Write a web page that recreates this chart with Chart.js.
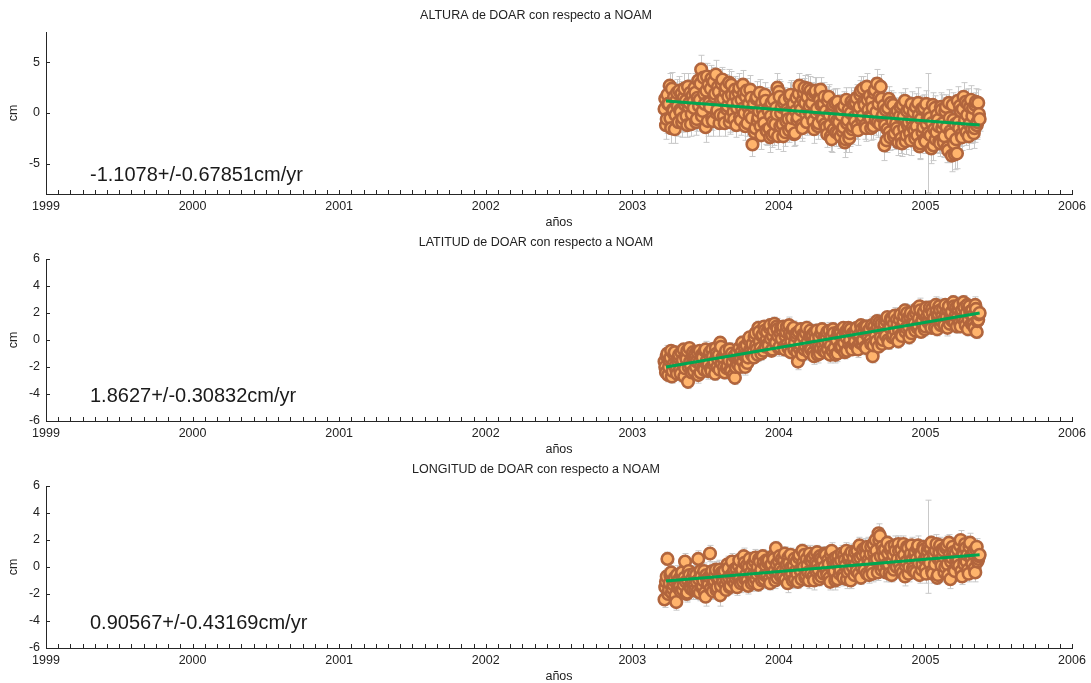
<!DOCTYPE html>
<html>
<head>
<meta charset="utf-8">
<script src="https://cdn.jsdelivr.net/npm/chart.js@4.4.0/dist/chart.umd.min.js"></script>
<style>
  body { margin: 0; background: #fff; width: 1091px; height: 683px; position: relative; overflow: hidden; }
  .panel { position: absolute; left: 0; width: 1091px; height: 230px; }
</style>
</head>
<body>
<div class="panel" style="top:0"><canvas id="c1" width="1091" height="230"></canvas></div>
<div class="panel" style="top:227px"><canvas id="c2" width="1091" height="230"></canvas></div>
<div class="panel" style="top:454px"><canvas id="c3" width="1091" height="230"></canvas></div>
<script>
// fechas (años decimales) de las soluciones, serie A
const fechas = [
  2003.22, 2003.23, 2003.24, 2003.25, 2003.26, 2003.27, 2003.28, 2003.29, 2003.30, 2003.31,
  2003.32, 2003.33, 2003.34, 2003.35, 2003.36, 2003.37, 2003.38, 2003.39, 2003.40, 2003.41,
  2003.42, 2003.43, 2003.44, 2003.45, 2003.46, 2003.47, 2003.48, 2003.49, 2003.50, 2003.51,
  2003.52, 2003.53, 2003.54, 2003.55, 2003.56, 2003.57, 2003.58, 2003.59, 2003.60, 2003.61,
  2003.62, 2003.63, 2003.64, 2003.65, 2003.66, 2003.67, 2003.68, 2003.69, 2003.70, 2003.71,
  2003.72, 2003.73, 2003.74, 2003.75, 2003.76, 2003.77, 2003.78, 2003.79, 2003.80, 2003.81,
  2003.82, 2003.83, 2003.84, 2003.85, 2003.86, 2003.87, 2003.88, 2003.89, 2003.90, 2003.91,
  2003.92, 2003.93, 2003.94, 2003.95, 2003.96, 2003.97, 2003.98, 2003.99, 2004.00, 2004.01,
  2004.02, 2004.03, 2004.04, 2004.05, 2004.06, 2004.07, 2004.08, 2004.09, 2004.10, 2004.11,
  2004.12, 2004.13, 2004.14, 2004.15, 2004.16, 2004.17, 2004.18, 2004.19, 2004.20, 2004.21,
  2004.22, 2004.23, 2004.24, 2004.25, 2004.26, 2004.27, 2004.28, 2004.29, 2004.30, 2004.31,
  2004.32, 2004.33, 2004.34, 2004.35, 2004.36, 2004.37, 2004.38, 2004.39, 2004.40, 2004.41,
  2004.42, 2004.43, 2004.44, 2004.45, 2004.46, 2004.47, 2004.48, 2004.49, 2004.50, 2004.51,
  2004.52, 2004.53, 2004.54, 2004.55, 2004.56, 2004.57, 2004.58, 2004.59, 2004.60, 2004.61,
  2004.62, 2004.63, 2004.64, 2004.65, 2004.66, 2004.67, 2004.68, 2004.69, 2004.70, 2004.71,
  2004.72, 2004.73, 2004.74, 2004.75, 2004.76, 2004.77, 2004.78, 2004.79, 2004.80, 2004.81,
  2004.82, 2004.83, 2004.84, 2004.85, 2004.86, 2004.87, 2004.88, 2004.89, 2004.90, 2004.91,
  2004.92, 2004.93, 2004.94, 2004.95, 2004.96, 2004.97, 2004.98, 2004.99, 2005.00, 2005.01,
  2005.02, 2005.03, 2005.04, 2005.05, 2005.06, 2005.07, 2005.08, 2005.09, 2005.10, 2005.11,
  2005.12, 2005.13, 2005.14, 2005.15, 2005.16, 2005.17, 2005.18, 2005.19, 2005.20, 2005.21,
  2005.22, 2005.23, 2005.24, 2005.25, 2005.26, 2005.27, 2005.28, 2005.29, 2005.30, 2005.31,
  2005.32, 2005.33, 2005.34, 2005.35, 2005.36, 2005.37
];
// serie B (días intermedios)
const fechasB = [
  2003.225, 2003.235, 2003.245, 2003.255, 2003.265, 2003.275, 2003.285, 2003.295, 2003.305, 2003.315,
  2003.325, 2003.335, 2003.345, 2003.355, 2003.365, 2003.375, 2003.385, 2003.395, 2003.405, 2003.415,
  2003.425, 2003.435, 2003.445, 2003.455, 2003.465, 2003.475, 2003.485, 2003.495, 2003.505, 2003.515,
  2003.525, 2003.535, 2003.545, 2003.555, 2003.565, 2003.575, 2003.585, 2003.595, 2003.605, 2003.615,
  2003.625, 2003.635, 2003.645, 2003.655, 2003.665, 2003.675, 2003.685, 2003.695, 2003.705, 2003.715,
  2003.725, 2003.735, 2003.745, 2003.755, 2003.765, 2003.775, 2003.785, 2003.795, 2003.805, 2003.815,
  2003.825, 2003.835, 2003.845, 2003.855, 2003.865, 2003.875, 2003.885, 2003.895, 2003.905, 2003.915,
  2003.925, 2003.935, 2003.945, 2003.955, 2003.965, 2003.975, 2003.985, 2003.995, 2004.005, 2004.015,
  2004.025, 2004.035, 2004.045, 2004.055, 2004.065, 2004.075, 2004.085, 2004.095, 2004.105, 2004.115,
  2004.125, 2004.135, 2004.145, 2004.155, 2004.165, 2004.175, 2004.185, 2004.195, 2004.205, 2004.215,
  2004.225, 2004.235, 2004.245, 2004.255, 2004.265, 2004.275, 2004.285, 2004.295, 2004.305, 2004.315,
  2004.325, 2004.335, 2004.345, 2004.355, 2004.365, 2004.375, 2004.385, 2004.395, 2004.405, 2004.415,
  2004.425, 2004.435, 2004.445, 2004.455, 2004.465, 2004.475, 2004.485, 2004.495, 2004.505, 2004.515,
  2004.525, 2004.535, 2004.545, 2004.555, 2004.565, 2004.575, 2004.585, 2004.595, 2004.605, 2004.615,
  2004.625, 2004.635, 2004.645, 2004.655, 2004.665, 2004.675, 2004.685, 2004.695, 2004.705, 2004.715,
  2004.725, 2004.735, 2004.745, 2004.755, 2004.765, 2004.775, 2004.785, 2004.795, 2004.805, 2004.815,
  2004.825, 2004.835, 2004.845, 2004.855, 2004.865, 2004.875, 2004.885, 2004.895, 2004.905, 2004.915,
  2004.925, 2004.935, 2004.945, 2004.955, 2004.965, 2004.975, 2004.985, 2004.995, 2005.005, 2005.015,
  2005.025, 2005.035, 2005.045, 2005.055, 2005.065, 2005.075, 2005.085, 2005.095, 2005.105, 2005.115,
  2005.125, 2005.135, 2005.145, 2005.155, 2005.165, 2005.175, 2005.185, 2005.195, 2005.205, 2005.215,
  2005.225, 2005.235, 2005.245, 2005.255, 2005.265, 2005.275, 2005.285, 2005.295, 2005.305, 2005.315,
  2005.325, 2005.335, 2005.345, 2005.355, 2005.365
];

// ALTURA (cm)
const altura = [
  0.4, -1.2, 1.8, 0.9, -0.5, 2.4, 0.2, -1.6, 1.2, 0.7,
  2.2, 0.1, -0.9, 1.5, 0.8, -0.3, 2.6, 1.0, -1.1, 1.7,
  0.5, 2.0, -0.6, 3.2, 1.3, 4.3, 0.2, 1.9, -1.4, 3.6,
  2.8, 0.6, 3.4, -0.8, 1.6, 3.8, 0.3, 2.1, -0.2, 2.9,
  1.4, -1.0, 2.6, 0.7, 3.0, -0.4, 1.8, 0.1, 2.3, -1.2,
  1.1, 2.5, -0.7, 0.4, 1.9, -1.3, 2.2, 0.6, -0.2, 1.5,
  -3.1, 0.9, -1.5, 1.6, -0.4, 2.0, -2.2, 0.3, -1.0, 1.2,
  -1.8, 0.2, -2.4, 1.0, -0.9, -2.0, 0.5, 2.5, 2.1, -1.3,
  0.6, -2.3, 1.3, -0.8, 0.0, -1.7, 1.8, -0.5, 0.9, -2.0,
  1.5, -0.4, 2.7, 0.3, -1.5, 2.0, 1.0, -0.9, 2.4, 0.7,
  -0.2, 1.8, -1.6, 2.2, 0.4, -1.0, 1.3, 0.8, -0.6, 1.6,
  0.2, -2.1, 1.6, -1.2, -2.6, 0.8, -0.5, -1.9, 1.1, -0.9,
  -2.3, 0.4, -1.4, -2.9, 1.3, -0.7, -2.5, 0.0, -1.6, 0.9,
  -0.8, 1.5, -1.7, 0.6, 2.2, -0.3, 1.1, -1.2, 2.6, 0.3,
  1.7, -1.5, 0.5, 2.0, -0.7, 2.9, 0.9, -1.1, 1.4, -0.2,
  -3.2, 0.3, -1.6, 1.4, -2.4, -0.5, 0.8, -2.0, -1.0, 0.2,
  -1.8, 0.6, -3.0, -0.4, 1.2, -2.2, -1.2, 0.4, -2.7, -0.7,
  0.1, -2.5, -1.3, 1.0, -3.3, -0.6, -1.9, 0.5, -2.8, -1.1,
  -2.0, -0.5, -3.5, 0.8, -1.6, -2.6, -0.2, -1.3, -3.0, 0.3,
  -1.0, -2.3, 0.6, -3.4, 1.0, -1.8, -4.2, -0.7, -4.1, -2.6,
  1.2, -1.5, 0.2, -2.4, 1.6, -0.7, -1.9, 0.9, -1.1, 1.3,
  -0.3, -2.0, 0.8, -1.2, 1.0, -0.6
];
const alturaB = [
  1.4, -0.6, 0.9, 2.7, -1.5, 0.3, 1.6, -0.2, 2.0, -0.9,
  0.3, 1.9, -0.5, 2.4, 1.2, -1.2, 0.6, 2.0, -0.1, 1.1,
  2.5, -0.9, 1.5, 0.7, 2.9, -0.3, 3.5, 0.9, 2.2, -0.8,
  1.0, 2.4, -0.5, 3.1, 1.9, 0.0, 2.6, -1.0, 1.3, 3.3,
  -0.3, 2.1, 0.4, 1.6, -0.9, 2.8, 0.9, -0.6, 1.7, 0.5,
  2.0, -0.4, 1.3, 2.8, 0.0, 1.6, -1.0, 0.9, 2.3, -0.5,
  0.6, -1.9, 1.4, -0.8, 0.2, -1.3, 1.0, -0.3, 1.8, -1.7,
  0.4, -1.5, -0.3, -2.2, 1.3, -1.1, -0.1, -2.3, 1.6, 0.0,
  -1.1, 1.0, -1.9, 0.3, -0.6, 1.5, -1.4, 0.6, -2.1, 0.2,
  -0.7, 1.9, 0.8, -1.2, 1.3, 2.5, -0.1, 1.6, 0.2, 2.2,
  1.0, -0.8, 2.0, 0.0, -1.3, 1.5, 2.3, -0.4, 0.9, -1.1,
  -1.4, 1.2, -0.2, -2.3, 0.5, -1.6, 1.0, -0.8, -2.0, 0.3,
  -0.2, -1.8, 0.7, -2.6, -1.0, 0.3, -2.0, 1.1, -1.3, -0.4,
  1.0, -1.3, 0.1, 1.8, -0.6, 2.4, 0.8, -1.5, 1.3, -0.4,
  -0.5, 1.2, -1.3, 2.3, 0.1, -0.9, 1.6, 2.6, -0.4, 0.7,
  -1.2, -2.7, 0.5, -1.9, 1.0, -0.8, -2.3, 0.0, -1.5, -2.9,
  -0.3, -2.5, 0.8, -1.5, -2.8, 0.2, -0.9, -2.0, 0.9, -1.4,
  -1.7, 0.6, -2.2, -0.2, -3.0, 0.4, -1.4, -2.6, 0.9, -0.5,
  0.0, -2.2, -1.0, -3.2, 0.5, -1.9, -0.7, -2.8, 0.6, -1.5,
  -2.9, 0.2, -1.4, -3.7, -0.5, -2.1, 0.8, -3.0, -1.1, -4.0,
  -0.9, 0.7, -2.1, 0.4, -1.3, 1.1, -0.2, -2.3, 0.6, -1.6,
  0.5, -1.5, 1.1, -0.9, -0.1
];
const alturaErr = [
  1.3, 1.4, 1.2, 1.5, 1.3, 1.6, 1.2, 1.4, 1.3, 1.5,
  1.4, 1.2, 1.5, 1.3, 1.1, 1.4, 1.3, 1.5, 1.2, 1.4,
  1.3, 1.5, 1.2, 1.4, 1.3, 1.4, 1.6, 1.2, 1.5, 1.3,
  1.2, 1.4, 1.3, 1.5, 1.2, 1.4, 1.3, 1.6, 1.2, 1.4,
  1.5, 1.3, 1.2, 1.4, 1.3, 1.5, 1.2, 1.4, 1.3, 1.2,
  1.3, 1.4, 1.5, 1.2, 1.3, 1.4, 1.2, 1.5, 1.3, 1.4,
  1.2, 1.4, 1.3, 1.5, 1.2, 1.3, 1.4, 1.2, 1.5, 1.3,
  1.4, 1.2, 1.5, 1.3, 1.4, 1.2, 1.3, 1.4, 1.2, 1.5,
  1.3, 1.5, 1.2, 1.4, 1.3, 1.2, 1.4, 1.3, 1.5, 1.2,
  1.4, 1.3, 1.2, 1.5, 1.3, 1.4, 1.2, 1.3, 1.4, 1.2,
  1.3, 1.2, 1.4, 1.3, 1.5, 1.2, 1.4, 1.3, 1.2, 1.4,
  1.5, 1.3, 1.2, 1.4, 1.3, 1.5, 1.2, 1.4, 1.3, 1.2,
  1.2, 1.4, 1.3, 1.5, 1.2, 1.3, 1.4, 1.2, 1.5, 1.3,
  1.4, 1.3, 1.5, 1.2, 1.4, 1.3, 1.2, 1.4, 1.3, 1.5,
  1.3, 1.2, 1.4, 1.3, 1.5, 1.4, 1.2, 1.3, 1.4, 1.2,
  1.5, 1.3, 1.4, 1.2, 1.3, 1.5, 1.2, 1.4, 1.3, 1.2,
  1.2, 1.4, 1.3, 1.5, 1.2, 1.4, 1.3, 1.2, 1.5, 1.3,
  1.4, 1.2, 1.3, 1.5, 1.3, 1.2, 1.4, 1.3, 1.2, 1.4,
  5.9, 1.3, 1.5, 1.2, 1.4, 1.3, 1.2, 1.4, 1.3, 1.5,
  1.3, 1.4, 1.2, 1.5, 1.3, 1.4, 1.6, 1.2, 1.5, 1.3,
  1.4, 1.2, 1.5, 1.3, 1.4, 1.2, 1.3, 1.5, 1.2, 1.4,
  1.3, 1.5, 1.2, 1.4, 1.3, 1.2
];
const alturaErrB = [
  1.2, 1.4, 1.3, 1.2, 1.5, 1.3, 1.4, 1.2, 1.3, 1.4,
  1.3, 1.2, 1.4, 1.5, 1.3, 1.2, 1.4, 1.3, 1.5, 1.2,
  1.4, 1.3, 1.2, 1.3, 1.5, 1.2, 1.4, 1.3, 1.2, 1.5,
  1.3, 1.5, 1.2, 1.4, 1.3, 1.2, 1.5, 1.3, 1.4, 1.2,
  1.2, 1.4, 1.3, 1.5, 1.2, 1.3, 1.4, 1.2, 1.3, 1.5,
  1.4, 1.2, 1.3, 1.4, 1.2, 1.5, 1.3, 1.2, 1.4, 1.3,
  1.3, 1.5, 1.2, 1.3, 1.4, 1.2, 1.3, 1.5, 1.2, 1.4,
  1.5, 1.3, 1.4, 1.2, 1.3, 1.4, 1.2, 1.3, 1.5, 1.2,
  1.2, 1.3, 1.4, 1.3, 1.2, 1.5, 1.3, 1.4, 1.2, 1.3,
  1.3, 1.4, 1.2, 1.3, 1.5, 1.2, 1.4, 1.3, 1.2, 1.4,
  1.4, 1.3, 1.5, 1.2, 1.3, 1.4, 1.2, 1.5, 1.3, 1.2,
  1.2, 1.4, 1.3, 1.5, 1.2, 1.3, 1.4, 1.2, 1.3, 1.5,
  1.3, 1.2, 1.4, 1.3, 1.5, 1.2, 1.3, 1.4, 1.2, 1.3,
  1.5, 1.3, 1.2, 1.4, 1.3, 1.2, 1.5, 1.3, 1.4, 1.2,
  1.2, 1.4, 1.3, 1.2, 1.4, 1.5, 1.3, 1.2, 1.3, 1.4,
  1.4, 1.2, 1.5, 1.3, 1.2, 1.4, 1.3, 1.5, 1.2, 1.3,
  1.3, 1.5, 1.2, 1.4, 1.3, 1.2, 1.4, 1.3, 1.2, 1.5,
  1.2, 1.3, 1.4, 1.2, 1.5, 1.3, 1.2, 1.4, 1.3, 1.2,
  1.4, 1.2, 1.3, 1.5, 1.2, 1.4, 1.3, 1.2, 1.4, 1.3,
  1.5, 1.3, 1.4, 1.2, 1.3, 1.5, 1.2, 1.4, 1.3, 1.5,
  1.3, 1.4, 1.2, 1.3, 1.5, 1.2, 1.4, 1.3, 1.2, 1.4,
  1.2, 1.4, 1.3, 1.5, 1.3
];

// LATITUD (cm)
const latitud = [
  -1.6, -2.4, -1.0, -2.0, -1.3, -2.7, -1.8, -0.9, -2.2, -1.5,
  -1.1, -2.5, -1.7, -0.7, -2.1, -1.4, -3.1, -0.6, -1.9, -1.2,
  -2.3, -1.0, -1.6, -2.6, -0.8, -1.9, -1.3, -2.2, -0.7, -1.5,
  -1.8, -0.9, -2.3, -1.2, -1.6, -0.6, -2.0, -1.1, -0.2, -1.7,
  -1.3, -2.4, -0.8, -1.9, -1.5, -2.2, -1.0, -2.6, -2.8, -1.4,
  -1.8, -0.6, -1.4, -0.2, -1.1, -2.0, -0.4, -1.3, 0.2, -0.8,
  -0.3, -1.3, 0.5, -0.7, 0.9, -0.1, -1.0, 0.4, 1.0, -0.5,
  0.6, -0.4, 1.1, -0.8, 0.3, 1.2, -0.2, 0.8, -0.6, 0.5,
  0.1, 1.0, -0.7, 0.6, -0.3, 1.1, -0.9, 0.4, 0.9, -0.2,
  0.5, -1.6, -0.6, 0.8, -1.1, 0.2, -0.4, 0.9, -0.8, 0.3,
  -0.7, 0.4, -1.2, 0.1, 0.7, -0.5, -1.0, 0.5, -0.3, 0.2,
  -0.9, 0.6, -0.2, -1.1, 0.3, 0.8, -0.6, 0.1, -1.0, 0.4,
  0.5, -0.5, 0.9, -0.9, 0.2, 0.7, -0.3, 0.8, -0.7, 0.4,
  -0.1, 0.9, -0.7, 0.4, 1.1, -0.3, 0.6, -0.5, 1.0, 0.2,
  0.8, -0.3, -1.2, 1.0, 0.3, 1.4, -0.5, 0.7, 1.2, 0.0,
  1.2, 0.3, 1.7, -0.2, 0.9, 1.5, 0.4, 1.8, 0.1, 1.1,
  0.7, 1.9, 0.3, 1.4, 2.2, 0.9, 1.6, 0.2, 2.0, 1.2,
  1.8, 0.7, 2.3, 1.1, 2.5, 0.6, 1.5, 2.1, 1.0, 1.7,
  1.3, 2.4, 0.9, 2.0, 1.6, 2.6, 0.8, 1.9, 2.2, 1.4,
  2.3, 1.1, 2.0, 0.9, 2.5, 1.6, 2.1, 2.8, 1.3, 2.4,
  1.7, 2.6, 1.0, 2.2, 2.8, 1.4, 2.0, 0.8, 2.5, 1.9,
  2.2, 1.2, 2.6, 0.6, 1.5, 2.0
];
const latitudB = [
  -2.0, -1.2, -2.6, -1.5, -0.8, -2.3, -1.1, -1.9, -2.5, -1.3,
  -2.2, -0.9, -1.5, -2.7, -1.2, -0.8, -2.0, -1.6, -2.4, -0.9,
  -1.2, -2.0, -0.9, -1.7, -2.4, -1.1, -2.0, -0.8, -1.7, -2.3,
  -1.1, -2.1, -0.7, -1.8, -2.5, -1.0, -1.4, -2.2, -0.5, -1.3,
  -2.0, -1.0, -2.1, -1.3, -0.7, -2.3, -1.6, -1.2, -2.0, -0.9,
  -1.4, -2.0, -0.9, -1.6, -0.5, -1.2, -1.7, 0.0, -0.7, -1.1,
  -0.9, 0.2, -0.4, -1.1, 0.6, -0.6, 0.3, -0.8, 0.7, 0.0,
  -0.3, 0.9, 0.1, -0.7, 0.7, -0.2, 1.0, 0.3, -0.5, 0.9,
  0.7, -0.5, 0.3, 1.0, -0.6, 0.5, -0.1, 0.8, -0.7, 0.3,
  -0.9, 0.6, -0.3, -1.0, 0.4, -0.7, 0.5, -0.2, -0.9, 0.7,
  0.3, -0.9, 0.6, -0.4, -1.1, 0.2, -0.6, 0.8, -0.8, -0.1,
  0.2, -0.7, 0.7, -0.4, -0.8, 0.5, -1.1, 0.0, 0.6, -0.5,
  -0.6, 0.3, -0.2, 0.6, -0.8, 0.9, 0.0, -0.5, 0.5, -0.3,
  0.6, -0.5, 0.3, -0.2, 0.8, 0.0, 1.0, -0.6, 0.4, 0.7,
  0.0, 1.1, -0.4, 0.6, -0.1, 0.9, 1.3, 0.2, -0.3, 0.8,
  0.5, 1.4, 0.0, 1.0, 1.6, 0.2, 1.2, 0.7, 1.5, -0.1,
  1.5, 0.4, 1.1, 1.8, 0.6, 2.0, 1.0, 1.7, 0.5, 1.4,
  1.2, 2.0, 0.9, 1.6, 2.2, 1.3, 1.9, 0.8, 2.4, 1.4,
  2.0, 1.2, 2.3, 1.5, 0.9, 2.1, 1.7, 2.5, 1.1, 1.8,
  1.5, 2.6, 1.7, 2.2, 1.2, 2.0, 1.4, 2.5, 1.8, 1.0,
  2.3, 1.3, 2.0, 1.6, 2.4, 1.1, 2.6, 1.5, 2.1, 1.2,
  1.8, 0.9, 2.3, 1.4, 1.9
];
const latitudErr = [
  0.5, 0.4, 0.6, 0.5, 0.4, 0.5, 0.6, 0.4, 0.5, 0.5,
  0.4, 0.6, 0.5, 0.4, 0.5, 0.6, 0.5, 0.4, 0.5, 0.6,
  0.5, 0.4, 0.5, 0.6, 0.4, 0.5, 0.5, 0.4, 0.6, 0.5,
  0.6, 0.5, 0.4, 0.5, 0.6, 0.4, 0.5, 0.5, 0.4, 0.6,
  0.4, 0.5, 0.6, 0.4, 0.5, 0.5, 0.6, 0.4, 0.5, 0.4,
  0.5, 0.6, 0.4, 0.5, 0.4, 0.6, 0.5, 0.5, 0.4, 0.5,
  0.5, 0.4, 0.5, 0.6, 0.5, 0.4, 0.5, 0.6, 0.4, 0.5,
  0.4, 0.5, 0.5, 0.4, 0.6, 0.5, 0.4, 0.5, 0.6, 0.4,
  0.6, 0.4, 0.5, 0.5, 0.4, 0.6, 0.5, 0.4, 0.5, 0.5,
  0.5, 0.6, 0.4, 0.5, 0.5, 0.4, 0.6, 0.5, 0.4, 0.5,
  0.4, 0.5, 0.6, 0.4, 0.5, 0.5, 0.4, 0.6, 0.5, 0.4,
  0.5, 0.4, 0.5, 0.6, 0.4, 0.5, 0.5, 0.4, 0.6, 0.5,
  0.6, 0.5, 0.4, 0.5, 0.5, 0.6, 0.4, 0.5, 0.4, 0.5,
  0.5, 0.4, 0.6, 0.5, 0.4, 0.5, 0.6, 0.4, 0.5, 0.5,
  0.4, 0.5, 0.5, 0.6, 0.4, 0.5, 0.4, 0.6, 0.5, 0.4,
  0.5, 0.6, 0.4, 0.5, 0.5, 0.4, 0.5, 0.6, 0.4, 0.5,
  0.4, 0.5, 0.6, 0.4, 0.5, 0.5, 0.4, 0.5, 0.6, 0.5,
  0.5, 0.4, 0.5, 0.5, 0.6, 0.4, 0.5, 0.4, 0.5, 0.6,
  0.6, 0.5, 0.4, 0.5, 0.4, 0.6, 0.5, 0.5, 0.4, 0.5,
  0.4, 0.5, 0.5, 0.6, 0.4, 0.5, 0.4, 0.5, 0.6, 0.4,
  0.5, 0.6, 0.4, 0.5, 0.5, 0.4, 0.6, 0.5, 0.4, 0.5,
  0.5, 0.4, 0.6, 0.5, 0.4, 0.5
];
const latitudErrB = [
  0.4, 0.5, 0.5, 0.6, 0.4, 0.5, 0.4, 0.6, 0.5, 0.4,
  0.5, 0.4, 0.6, 0.5, 0.5, 0.4, 0.6, 0.5, 0.4, 0.5,
  0.6, 0.5, 0.4, 0.5, 0.4, 0.6, 0.5, 0.5, 0.4, 0.6,
  0.5, 0.4, 0.5, 0.6, 0.5, 0.4, 0.5, 0.4, 0.6, 0.5,
  0.4, 0.6, 0.5, 0.4, 0.5, 0.6, 0.4, 0.5, 0.5, 0.4,
  0.5, 0.5, 0.4, 0.6, 0.5, 0.4, 0.5, 0.6, 0.4, 0.5,
  0.6, 0.4, 0.5, 0.5, 0.4, 0.6, 0.5, 0.4, 0.5, 0.6,
  0.5, 0.6, 0.4, 0.5, 0.5, 0.4, 0.6, 0.5, 0.4, 0.5,
  0.4, 0.5, 0.6, 0.4, 0.5, 0.5, 0.4, 0.6, 0.5, 0.4,
  0.5, 0.4, 0.5, 0.6, 0.4, 0.5, 0.5, 0.4, 0.6, 0.5,
  0.6, 0.5, 0.4, 0.5, 0.6, 0.4, 0.5, 0.5, 0.4, 0.6,
  0.4, 0.5, 0.6, 0.5, 0.4, 0.5, 0.6, 0.4, 0.5, 0.5,
  0.5, 0.4, 0.5, 0.6, 0.5, 0.4, 0.5, 0.6, 0.4, 0.5,
  0.6, 0.5, 0.4, 0.5, 0.6, 0.5, 0.4, 0.5, 0.5, 0.4,
  0.5, 0.6, 0.4, 0.5, 0.5, 0.4, 0.6, 0.5, 0.4, 0.5,
  0.4, 0.5, 0.5, 0.6, 0.4, 0.5, 0.5, 0.4, 0.6, 0.5,
  0.5, 0.4, 0.6, 0.5, 0.4, 0.6, 0.5, 0.5, 0.4, 0.5,
  0.6, 0.5, 0.4, 0.5, 0.5, 0.4, 0.6, 0.5, 0.4, 0.5,
  0.4, 0.6, 0.5, 0.4, 0.5, 0.5, 0.4, 0.6, 0.5, 0.4,
  0.5, 0.4, 0.6, 0.5, 0.5, 0.4, 0.5, 0.6, 0.4, 0.5,
  0.6, 0.5, 0.4, 0.5, 0.4, 0.6, 0.5, 0.4, 0.5, 0.5,
  0.4, 0.5, 0.5, 0.6, 0.4
];

// LONGITUD (cm)
const longitud = [
  -2.4, -1.1, 0.6, -1.7, -0.6, -1.9, -1.3, -0.8, -2.6, -1.5,
  -0.9, -1.8, -0.4, -1.3, 0.4, -2.0, -1.0, -0.6, -1.6, -1.2,
  -0.5, -1.7, -1.1, 0.6, -1.9, -0.7, -1.4, -0.3, -2.2, -0.9,
  -1.3, 1.0, -0.6, -1.8, -1.0, -0.2, -1.5, -0.8, -2.1, -0.4,
  -1.1, -0.3, -1.7, 0.2, -0.8, -1.4, 0.4, -0.5, -1.2, -0.1,
  -0.7, 0.5, -1.2, -0.2, 0.8, -0.9, 0.1, -1.4, 0.6, -0.4,
  0.2, -1.1, 0.7, -0.5, -1.3, 0.4, -0.2, 0.8, -0.9, 0.1,
  -0.6, 0.5, -1.2, 0.2, 0.8, -0.3, 1.4, -0.8, 0.4, -0.1,
  0.6, -0.7, 1.0, -0.2, -1.2, 0.3, 0.9, -0.5, 0.1, -0.9,
  0.4, -1.1, 0.9, -0.3, 1.2, 0.0, -0.8, 0.6, -0.4, 1.0,
  -0.5, 0.7, -1.0, 0.3, 1.1, -0.2, 0.8, -0.7, 0.5, 0.0,
  0.9, -0.6, 0.2, -1.1, 1.2, 0.4, -0.3, 0.7, -0.9, 0.3,
  -0.2, 1.0, -0.8, 0.5, 1.2, -0.4, 0.8, -1.0, 0.3, 0.7,
  1.1, -0.3, 0.6, 1.6, -0.8, 0.9, 0.2, 1.4, -0.5, 0.5,
  0.3, 1.5, -0.5, 1.0, 2.0, 0.6, 2.5, 2.3, -0.2, 1.2,
  0.8, -0.4, 1.8, 0.2, 1.3, -0.6, 0.9, 1.6, 0.1, 0.6,
  1.2, -0.2, 0.7, 1.7, -0.7, 0.4, 1.4, 0.0, 1.0, 0.5,
  -0.3, 1.1, 0.6, 1.6, -0.6, 0.9, 0.2, 1.3, -0.1, 0.7,
  1.5, 0.3, 1.8, -0.5, 0.9, 1.2, -0.8, 0.6, 1.6, 0.1,
  0.8, -0.4, 1.4, 0.2, 1.8, -0.9, 0.7, 1.1, -0.3, 0.5,
  1.3, 0.1, 2.0, -0.7, 0.9, 1.7, 0.4, -0.2, 1.5, 0.8,
  0.2, 1.2, -0.4, 1.5, 0.6, 0.9
];
const longitudB = [
  -1.5, -0.7, -2.0, -1.2, -0.4, -1.6, -1.0, -2.1, -0.6, -1.3,
  -1.4, -0.6, -1.7, -0.8, -1.1, -1.9, -0.3, -1.4, -0.9, -1.7,
  -1.3, -0.6, -1.8, -0.9, -0.3, -1.5, -1.0, -1.9, -0.6, -1.2,
  -0.7, -1.6, -0.3, -1.2, -0.6, -1.7, -0.9, -0.2, -1.4, -0.8,
  -0.4, -1.3, -0.9, -0.1, -1.5, -0.6, -1.0, -0.2, -0.8, -1.5,
  0.1, -0.8, -0.3, -1.1, 0.3, -0.6, -1.0, 0.0, -0.5, -1.2,
  -0.6, 0.4, -0.9, 0.0, 0.6, -0.4, -1.0, 0.3, -0.6, 0.5,
  0.3, -0.9, 0.0, -0.5, 0.6, -1.0, 0.2, -0.4, 0.8, -0.7,
  -0.3, 0.5, -0.9, 0.2, 0.7, -0.6, 0.0, -1.0, 0.6, -0.3,
  -0.5, 0.7, -0.2, -0.9, 0.3, 0.9, -0.6, 0.1, -1.0, 0.5,
  0.4, -0.7, 0.9, -0.3, 0.2, -0.9, 0.6, 0.1, -0.5, 1.0,
  -0.3, 0.5, -0.8, 0.9, -0.2, 0.6, -1.0, 0.2, 0.8, -0.5,
  0.5, -0.6, 0.9, 0.1, -0.9, 0.6, -0.2, 1.1, 0.0, -0.6,
  0.2, 1.2, -0.5, 0.7, 0.0, 1.3, -0.2, 0.9, 1.5, -0.6,
  1.0, -0.2, 1.7, 0.5, 1.2, -0.4, 2.0, 0.8, 1.5, 0.0,
  1.3, 0.2, 1.0, -0.5, 1.5, 0.5, -0.2, 1.2, 0.0, 1.7,
  0.2, 1.3, -0.4, 0.9, 0.1, 1.5, -0.5, 0.8, 1.6, -0.1,
  0.9, -0.4, 1.4, 0.3, 1.0, -0.2, 1.5, 0.6, -0.5, 1.2,
  0.6, 1.4, -0.3, 1.0, 0.2, 1.7, -0.6, 1.1, 0.4, 1.3,
  1.2, 0.0, 1.6, -0.6, 0.9, 0.4, 1.5, -0.2, 1.0, 0.2,
  0.5, 1.6, -0.3, 1.1, 0.2, 1.4, 0.9, -0.5, 1.8, 0.6,
  1.0, -0.1, 1.3, 0.4, 0.8
];
const longitudErr = [
  0.6, 0.7, 0.5, 0.6, 0.7, 0.6, 0.5, 0.7, 0.6, 0.6,
  0.7, 0.5, 0.6, 0.7, 0.6, 0.5, 0.7, 0.6, 0.6, 0.5,
  0.6, 0.7, 0.5, 0.6, 0.6, 0.7, 0.5, 0.6, 0.7, 0.6,
  0.5, 0.6, 0.7, 0.6, 0.5, 0.6, 0.7, 0.6, 0.8, 0.6,
  0.7, 0.6, 0.5, 0.6, 0.7, 0.5, 0.6, 0.7, 0.6, 0.5,
  0.6, 0.5, 0.7, 0.6, 0.6, 0.5, 0.7, 0.6, 0.5, 0.6,
  0.5, 0.6, 0.6, 0.7, 0.5, 0.6, 0.6, 0.5, 0.7, 0.6,
  0.6, 0.7, 0.5, 0.6, 0.6, 0.7, 0.5, 0.6, 0.6, 0.5,
  0.7, 0.6, 0.5, 0.6, 0.7, 0.6, 0.5, 0.6, 0.7, 0.6,
  0.6, 0.5, 0.6, 0.7, 0.5, 0.6, 0.6, 0.7, 0.5, 0.6,
  0.5, 0.6, 0.7, 0.6, 0.5, 0.6, 0.7, 0.5, 0.6, 0.6,
  0.6, 0.7, 0.5, 0.6, 0.6, 0.5, 0.7, 0.6, 0.6, 0.5,
  0.7, 0.6, 0.6, 0.5, 0.6, 0.7, 0.5, 0.6, 0.7, 0.6,
  0.6, 0.5, 0.7, 0.6, 0.5, 0.6, 0.6, 0.7, 0.5, 0.6,
  0.5, 0.6, 0.6, 0.7, 0.6, 0.5, 0.7, 0.6, 0.5, 0.6,
  0.6, 0.7, 0.5, 0.6, 0.6, 0.5, 0.6, 0.7, 0.6, 0.5,
  0.7, 0.6, 0.5, 0.6, 0.7, 0.6, 0.5, 0.6, 0.6, 0.7,
  0.6, 0.5, 0.6, 0.7, 0.6, 0.5, 0.6, 0.6, 0.7, 0.5,
  3.45, 0.6, 0.5, 0.7, 0.6, 0.6, 0.5, 0.7, 0.6, 0.5,
  0.6, 0.7, 0.6, 0.5, 0.6, 0.7, 0.6, 0.5, 0.6, 0.7,
  0.5, 0.6, 0.7, 0.6, 0.5, 0.6, 0.6, 0.7, 0.5, 0.6,
  0.6, 0.5, 0.7, 0.6, 0.6, 0.5
];
const longitudErrB = [
  0.7, 0.6, 0.6, 0.5, 0.7, 0.6, 0.5, 0.6, 0.7, 0.6,
  0.5, 0.6, 0.7, 0.6, 0.5, 0.7, 0.6, 0.6, 0.5, 0.7,
  0.6, 0.5, 0.6, 0.7, 0.6, 0.5, 0.6, 0.7, 0.6, 0.5,
  0.6, 0.7, 0.6, 0.5, 0.6, 0.6, 0.5, 0.7, 0.6, 0.6,
  0.5, 0.6, 0.7, 0.6, 0.5, 0.6, 0.7, 0.5, 0.6, 0.6,
  0.7, 0.6, 0.5, 0.6, 0.7, 0.6, 0.6, 0.5, 0.7, 0.6,
  0.6, 0.5, 0.7, 0.6, 0.6, 0.5, 0.6, 0.7, 0.5, 0.6,
  0.5, 0.6, 0.6, 0.7, 0.5, 0.6, 0.7, 0.6, 0.5, 0.6,
  0.6, 0.7, 0.5, 0.6, 0.6, 0.5, 0.7, 0.6, 0.6, 0.5,
  0.7, 0.6, 0.6, 0.5, 0.6, 0.7, 0.5, 0.6, 0.6, 0.7,
  0.6, 0.5, 0.6, 0.7, 0.6, 0.5, 0.6, 0.6, 0.7, 0.5,
  0.5, 0.6, 0.7, 0.5, 0.6, 0.6, 0.7, 0.5, 0.6, 0.6,
  0.6, 0.7, 0.5, 0.6, 0.7, 0.6, 0.5, 0.6, 0.6, 0.7,
  0.7, 0.6, 0.6, 0.5, 0.6, 0.7, 0.6, 0.5, 0.7, 0.6,
  0.6, 0.5, 0.7, 0.6, 0.5, 0.6, 0.6, 0.7, 0.6, 0.5,
  0.5, 0.7, 0.6, 0.6, 0.5, 0.7, 0.6, 0.5, 0.6, 0.6,
  0.6, 0.6, 0.5, 0.7, 0.6, 0.5, 0.6, 0.7, 0.6, 0.5,
  0.7, 0.5, 0.6, 0.6, 0.7, 0.6, 0.5, 0.6, 0.7, 0.6,
  0.6, 0.7, 0.6, 0.5, 0.6, 0.7, 0.6, 0.5, 0.6, 0.6,
  0.5, 0.6, 0.7, 0.6, 0.5, 0.6, 0.7, 0.6, 0.6, 0.5,
  0.6, 0.7, 0.5, 0.6, 0.7, 0.6, 0.5, 0.6, 0.7, 0.6,
  0.7, 0.6, 0.5, 0.6, 0.6
];

// recta de ajuste (extremos)
const ajusteX = [2003.23, 2005.37];
const alturaAjuste = [1.18, -1.18];
const latitudAjuste = [-2.0, 2.0];
const longitudAjuste = [-1.04, 0.9];

const tituloAltura = 'ALTURA de DOAR con respecto a NOAM';
const tituloLatitud = 'LATITUD de DOAR con respecto a NOAM';
const tituloLongitud = 'LONGITUD de DOAR con respecto a NOAM';
const velAltura = '-1.1078+/-0.67851cm/yr';
const velLatitud = '1.8627+/-0.30832cm/yr';
const velLongitud = '0.90567+/-0.43169cm/yr';

const anios = [1999, 2000, 2001, 2002, 2003, 2004, 2005, 2006];
const ticksAltura = [-5, 0, 5];
const ticksLat = [-6, -4, -2, 0, 2, 4, 6];

Chart.defaults.font.family = 'Arial, "Liberation Sans", Helvetica, sans-serif';
Chart.defaults.font.size = 12.5;
Chart.defaults.color = '#222';

// barras de error (debajo de los puntos)
const errorBars = {
  id: 'errorBars',
  beforeDatasetsDraw(chart) {
    const { ctx, chartArea: a, scales: { x, y } } = chart;
    const ds = chart.data.datasets[1];
    ctx.save();
    ctx.beginPath();
    ctx.rect(a.left, a.top, a.right - a.left, a.bottom - a.top);
    ctx.clip();
    ctx.strokeStyle = '#c9c9c9';
    ctx.lineWidth = 1;
    ctx.beginPath();
    ds.data.forEach(p => {
      if (!p.e) return;
      const px = Math.round(x.getPixelForValue(p.x)) + 0.5;
      const y1 = y.getPixelForValue(p.y + p.e);
      const y2 = y.getPixelForValue(p.y - p.e);
      ctx.moveTo(px, y1); ctx.lineTo(px, y2);
      ctx.moveTo(px - 3, y1); ctx.lineTo(px + 3, y1);
      ctx.moveTo(px - 3, y2); ctx.lineTo(px + 3, y2);
    });
    ctx.stroke();
    ctx.restore();
  }
};

// marcas hacia dentro: meses en x, ticks en y
const innerTicks = {
  id: 'innerTicks',
  afterDraw(chart) {
    const { ctx, chartArea: a, scales: { x, y } } = chart;
    ctx.save();
    ctx.strokeStyle = '#262626';
    ctx.lineWidth = 1;
    ctx.beginPath();
    for (let m = 0; m <= 84; m++) {
      const px = Math.round(x.getPixelForValue(1999 + m / 12)) + 0.5;
      ctx.moveTo(px, a.bottom); ctx.lineTo(px, a.bottom - 4);
    }
    y.ticks.forEach(t => {
      const py = Math.round(y.getPixelForValue(t.value)) + 0.5;
      ctx.moveTo(a.left, py); ctx.lineTo(a.left + 4, py);
    });
    ctx.stroke();
    ctx.restore();
  }
};

// texto de la velocidad
const rateLabel = {
  id: 'rateLabel',
  afterDatasetsDraw(chart, args, opts) {
    const { ctx, scales: { x, y } } = chart;
    ctx.save();
    ctx.font = '20px Arial, "Liberation Sans", sans-serif';
    ctx.fillStyle = '#1a1a1a';
    ctx.textAlign = 'left';
    ctx.textBaseline = 'middle';
    ctx.fillText(opts.text, x.getPixelForValue(opts.x), y.getPixelForValue(opts.y));
    ctx.restore();
  }
};

function makePanel(id, titulo, valA, errA, valB, errB, ajuste, yMin, yMax, yTicks, vel, velY) {
  // las dos series se mezclan por fecha para dibujarlas en orden
  const puntos = fechas.map((f, i) => ({ x: f, y: valA[i], e: errA[i] }))
    .concat(fechasB.map((f, i) => ({ x: f, y: valB[i], e: errB[i] })))
    .sort((p, q) => p.x - q.x);
  const recta = ajusteX.map((f, i) => ({ x: f, y: ajuste[i] }));
  return new Chart(document.getElementById(id), {
    type: 'scatter',
    data: {
      datasets: [
        {
          data: recta,
          showLine: true,
          borderColor: '#00a651',
          borderWidth: 3,
          pointRadius: 0,
          order: 0
        },
        {
          data: puntos,
          pointRadius: 5.8,
          pointBackgroundColor: '#ffb46c',
          pointBorderColor: '#b1653d',
          pointBorderWidth: 2.6,
          order: 1
        }
      ]
    },
    options: {
      responsive: false,
      animation: false,
      events: [],
      layout: { padding: { left: 0, right: 19, top: 0, bottom: 0 } },
      plugins: {
        legend: { display: false },
        tooltip: { enabled: false },
        title: {
          display: true,
          text: titulo,
          color: '#222',
          font: { size: 12.5, weight: 'normal' },
          padding: { top: 8.5, bottom: 8.5 }
        },
        rateLabel: { text: vel, x: 1999.3, y: velY }
      },
      scales: {
        x: {
          type: 'linear',
          min: 1999,
          max: 2006,
          afterBuildTicks: s => { s.ticks = anios.map(v => ({ value: v })); },
          afterFit: s => { s.height = 36; },
          grid: { display: false, drawTicks: false },
          border: { display: true, color: '#262626', width: 1 },
          ticks: { padding: 5, maxRotation: 0, autoSkip: false, callback: v => String(v) },
          title: { display: true, text: 'años', padding: { top: 0, bottom: 0 } }
        },
        y: {
          min: yMin,
          max: yMax,
          afterBuildTicks: s => { s.ticks = yTicks.map(v => ({ value: v })); },
          afterFit: s => { s.width = 46; },
          grid: { display: false, drawTicks: false },
          border: { display: true, color: '#262626', width: 1 },
          ticks: { padding: 6, callback: v => String(v) },
          title: { display: true, text: 'cm', padding: { top: 6.5, bottom: 0 } }
        }
      }
    },
    plugins: [errorBars, innerTicks, rateLabel]
  });
}

makePanel('c1', tituloAltura, altura, alturaErr, alturaB, alturaErrB, alturaAjuste, -8, 8, ticksAltura, velAltura, -6.2);
makePanel('c2', tituloLatitud, latitud, latitudErr, latitudB, latitudErrB, latitudAjuste, -6, 6, ticksLat, velLatitud, -4.15);
makePanel('c3', tituloLongitud, longitud, longitudErr, longitudB, longitudErrB, longitudAjuste, -6, 6, ticksLat, velLongitud, -4.15);
</script>
</body>
</html>
